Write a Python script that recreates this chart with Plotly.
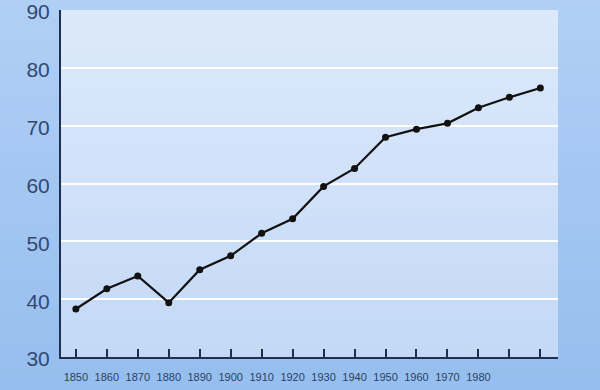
import plotly.graph_objects as go

years = [1850, 1860, 1870, 1880, 1890, 1900, 1910, 1920, 1930, 1940,
         1950, 1960, 1970, 1980, 1990, 2000]
values = [38.3, 41.8, 44.0, 39.4, 45.1, 47.5, 51.4, 53.9, 59.5, 62.6,
          68.0, 69.4, 70.4, 73.1, 74.9, 76.5]
x_tick_labels = ["1850", "1860", "1870", "1880", "1890", "1900", "1910", "1920",
                 "1930", "1940", "1950", "1960", "1970", "1980", "", ""]
y_ticks = [30, 40, 50, 60, 70, 80, 90]


def lerp(c1, c2, t):
    return "rgb(%d,%d,%d)" % tuple(round(a + (b - a) * t) for a, b in zip(c1, c2))


shapes = []
# outer background gradient (paper)
N = 30
top_c, bot_c = (178, 208, 246), (150, 190, 238)
for i in range(N):
    y0 = -0.1 + 1.2 * i / N
    y1 = -0.1 + 1.2 * (i + 1) / N + 0.005
    shapes.append(dict(type="rect", xref="paper", yref="paper", x0=-0.2, x1=1.2,
                       y0=y0, y1=y1, fillcolor=lerp(bot_c, top_c, i / (N - 1)),
                       line_width=0, layer="below"))
# plot area gradient
N2 = 30
ptop, pbot = (220, 233, 251), (196, 217, 246)
for i in range(N2):
    y0 = i / N2
    y1 = (i + 1) / N2 + 0.002
    shapes.append(dict(type="rect", xref="x domain", yref="y domain", x0=0, x1=1,
                       y0=y0, y1=min(y1, 1), fillcolor=lerp(pbot, ptop, i / (N2 - 1)),
                       line_width=0, layer="below"))

fig = go.Figure()
fig.add_trace(go.Scatter(
    x=years, y=values, mode="lines+markers",
    line=dict(color="#111111", width=2.2),
    marker=dict(color="#111111", size=7),
    showlegend=False,
    cliponaxis=False,
))

fig.update_layout(
    width=600, height=390,
    margin=dict(l=61, r=42, t=10, b=33),
    paper_bgcolor="#a4c7f2",
    plot_bgcolor="#d2e3f9",
    shapes=shapes,
    font=dict(family="Liberation Sans, Arial, sans-serif", color="#2b4270"),
)
fig.update_xaxes(
    range=[1845.2, 2005.7],
    tickvals=years, ticktext=x_tick_labels,
    tickfont=dict(size=11, color="#2a3f66"),
    ticks="inside", ticklen=8, tickwidth=1.5, tickcolor="#1f2f50",
    ticklabelstandoff=9,
    showline=True, linecolor="#1f2f50", linewidth=2,
    showgrid=False, zeroline=False, automargin=False,
)
fig.update_yaxes(
    range=[30, 90],
    tickvals=y_ticks,
    tickfont=dict(size=21, color="#34486e"),
    ticks="", ticklabelstandoff=5, ticklabeloverflow="allow",
    ticklabelshift=2,
    showline=True, linecolor="#1f2f50", linewidth=2,
    showgrid=True, gridcolor="#ffffff", gridwidth=2,
    zeroline=False, automargin=False,
)

fig.write_html(
    "out.html",
    config={"displayModeBar": False},
    post_script="document.body.style.margin='0px';document.body.style.overflow='hidden';",
)
